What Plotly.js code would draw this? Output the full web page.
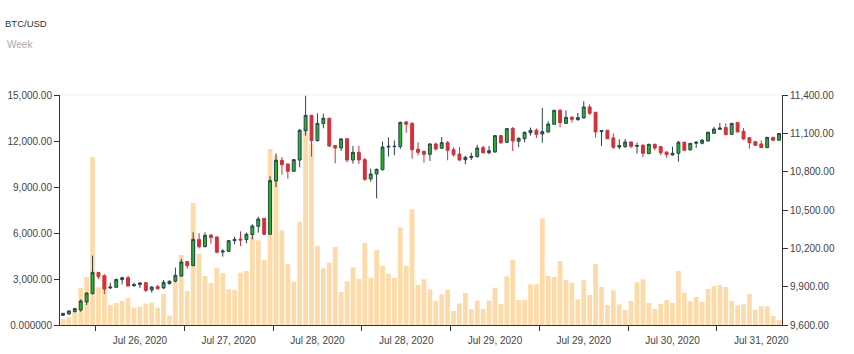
<!DOCTYPE html>
<html>
<head>
<meta charset="utf-8">
<script src="https://cdn.plot.ly/plotly-3.0.1.min.js"></script>
<style>html,body{margin:0;padding:0;background:#fff;}#chart{width:854px;height:354px;}</style>
</head>
<body>
<div id="chart"></div>
<script>
// ---- data (122 candles, one per period) ----
const openP = [9676,9686,9704,9717,9780,9845,10012,9986,9890,9895,9955,9970,9908,9916,9931,9874,9900,9890,9924,9942,
9983,10096,10064,10270,10213,10304,10289,10171,10177,10260,10273,10268,10307,10372,10435,10310,10727,10889,10860,10803,
10891,11121,11241,11043,11176,11218,11004,10985,11058,10891,10951,10894,10743,10782,10816,10993,10996,10996,11189,11178,
10975,10959,10936,11017,10983,11027,10972,10938,10894,10910,10918,10988,10949,10954,11082,11030,11139,11038,11058,11105,
11124,11095,11111,11171,11280,11178,11225,11207,11220,11306,11265,11113,11124,11064,10993,10996,11032,10999,11007,10941,
11014,10996,10954,10931,10944,11030,10970,11022,11022,11040,11100,11131,11145,11092,11184,11116,11066,11035,11017,10988,
11069,11046];
const highP = [9694,9715,9736,9801,9856,10143,10015,9997,9931,9963,9978,9986,9931,9934,9937,9905,9913,9952,9950,10049,
10117,10098,10325,10318,10325,10312,10291,10192,10265,10291,10333,10323,10388,10448,10437,10764,10944,10915,10863,10899,
11134,11400,11244,11257,11254,11220,11006,11064,11061,11001,11004,10910,10824,10824,11035,11069,11045,11192,11197,11186,
11030,10965,11022,11027,11071,11040,10991,10993,10925,10949,11011,11004,11001,11087,11087,11142,11150,11069,11113,11145,
11139,11298,11194,11283,11291,11280,11236,11259,11351,11327,11267,11126,11126,11100,11053,11056,11037,11027,11014,11019,
11019,10998,10957,10996,11040,11035,11024,11040,11056,11113,11150,11181,11178,11181,11189,11142,11071,11040,11043,11071,
11071,11103];
const lowP = [9670,9681,9699,9704,9757,9840,9960,9843,9882,9892,9918,9903,9897,9890,9858,9853,9879,9882,9916,9934,
9978,10041,10062,10200,10208,10237,10164,10135,10171,10231,10218,10239,10270,10323,10307,10307,10680,10777,10745,10800,
10834,11082,10918,11035,11139,10996,10865,10962,10873,10863,10860,10730,10722,10591,10808,10918,10928,10978,11105,10902,
10928,10871,10884,10965,10978,10889,10918,10886,10858,10891,10910,10941,10936,10949,11017,11024,10962,10991,11030,11082,
11063,11027,11105,11168,11147,11173,11184,11199,11218,11244,11066,11001,11056,10978,10975,10986,10983,10941,10915,10941,
10967,10928,10910,10925,10878,10962,10967,10986,11014,11038,11095,11126,11087,11090,11108,11051,10980,11004,10986,10986,
11040,11043];
const closeP = [9691,9710,9728,9788,9850,10012,9978,9882,9897,9957,9970,9905,9916,9929,9871,9897,9884,9934,9942,9989,
10093,10064,10270,10213,10302,10284,10169,10179,10260,10270,10265,10310,10375,10430,10310,10730,10889,10855,10803,10894,
11124,11241,11043,11178,11218,11000,10985,11056,10891,10951,10891,10740,10782,10818,10993,10998,10998,11186,11171,10972,
10951,10936,11017,10978,11027,10967,10933,10891,10912,10920,10985,10949,10964,11082,11027,11137,11040,11061,11108,11124,
11092,11113,11173,11280,11184,11225,11210,11223,11306,11257,11111,11121,11058,10991,11004,11032,10999,11004,10944,11014,
10985,10949,10933,10944,11030,10967,11022,11030,11046,11108,11134,11142,11090,11178,11111,11056,11027,11006,10988,11069,
11046,11098];
const volume = [400,530,830,2410,3130,10960,2460,3260,1300,1435,1565,1760,1130,1196,1390,1457,1130,2020,610,2800,
4565,2217,7960,4630,3196,2740,3718,3391,2326,2283,3413,3522,5761,5522,4239,11479,11044,6174,3978,2826,
6739,12850,11800,5174,3696,4065,5087,2152,2848,3761,3000,5348,3087,4891,3848,3348,3065,6370,3848,7544,
2609,2978,2326,1565,2000,2304,913,1413,2087,1043,1587,1043,1587,2435,1370,3174,4261,1630,1630,2652,
2652,6957,3196,3130,4174,2935,2761,1674,2913,1957,3978,2478,1304,2261,1348,978,1565,2783,2978,1435,
1043,1370,1630,1435,3522,2109,1544,1826,1500,2348,2543,2609,2478,1565,1283,1348,2022,1000,1217,1217,
587,326];
const dateLabels = ["Jul 26, 2020","Jul 27, 2020","Jul 28, 2020","Jul 28, 2020","Jul 29, 2020","Jul 29, 2020","Jul 30, 2020","Jul 31, 2020"];
const labelIndex = [13,28,43,58,73,88,103,118];
const tickEdges = [5.5,20.5,35.5,50.5,65.5,80.5,95.5,110.5];
const volTicks = [0,3000,6000,9000,12000,15000];
const volTickText = ["0.000000","3,000.00","6,000.00","9,000.00","12,000.00","15,000.00"];
const priceTicks = [9600,9900,10200,10500,10800,11100,11400];
const priceTickText = ["9,600.00","9,900.00","10,200.00","10,500.00","10,800.00","11,100.00","11,400.00"];

const idx = closeP.map((_, i) => i);
const font = {family: "Liberation Sans, Arial, sans-serif", size: 10, color: "#444"};

const traces = [
  {
    type: "bar", x: idx, y: volume, yaxis: "y", xaxis: "x",
    marker: {color: "#FFDAA9", line: {width: 0}}, hoverinfo: "y"
  },
  {
    type: "candlestick", x: idx, open: openP, high: highP, low: lowP, close: closeP,
    xaxis: "x", yaxis: "y2",
    increasing: {line: {color: "#2d4050", width: 1}, fillcolor: "#1fba1f"},
    decreasing: {line: {color: "#d3313a", width: 1}, fillcolor: "#d3313a"},
    whiskerwidth: 0
  }
];

const layout = {
  width: 854, height: 354,
  margin: {l: 60, r: 72, t: 95, b: 29, pad: 0},
  paper_bgcolor: "#fff", plot_bgcolor: "#fff",
  font: font,
  showlegend: false,
  bargap: 0.2,
  title: {text: "BTC/USD", x: 5/854, xanchor: "left", xref: "container",
          y: 1 - 24/354, yref: "container", yanchor: "middle",
          font: {family: "Liberation Sans, Arial, sans-serif", size: 9.5, color: "#333"}},
  annotations: [{text: "Week", xref: "paper", yref: "paper", x: -55/722, y: 1 + 50.5/230,
                 xanchor: "left", yanchor: "middle", showarrow: false,
                 font: {family: "Liberation Sans, Arial, sans-serif", size: 10, color: "#aaa"}}],
  xaxis: {
    range: [-0.5, 121.5], showgrid: false, zeroline: false,
    showline: true, linecolor: "#333", linewidth: 1,
    tickmode: "array", tickvals: labelIndex, ticktext: dateLabels,
    ticks: "", ticklabelstandoff: 6,
    minor: {tickmode: "array", tickvals: tickEdges, ticks: "outside", ticklen: 5, tickcolor: "#333", showgrid: false},
    rangeslider: {visible: false}, fixedrange: true, tickfont: font
  },
  yaxis: {
    range: [0, 15000], side: "left", showgrid: false, zeroline: false,
    showline: true, linecolor: "#333", linewidth: 1,
    tickmode: "array", tickvals: volTicks, ticktext: volTickText,
    ticks: "outside", ticklen: 5, tickcolor: "#333", tickfont: font
  },
  yaxis2: {
    range: [9600, 11400], side: "right", overlaying: "y", showgrid: false, zeroline: false,
    showline: true, linecolor: "#333", linewidth: 1,
    tickmode: "array", tickvals: priceTicks, ticktext: priceTickText,
    ticks: "outside", ticklen: 5, tickcolor: "#333", tickfont: font
  },
  shapes: [{type: "line", xref: "paper", yref: "paper", x0: 0, x1: 1, y0: 1, y1: 1,
            line: {color: "#fdf4ee", width: 1.5}}]
};

Plotly.newPlot("chart", traces, layout, {displayModeBar: false, staticPlot: true});
</script>
</body>
</html>
